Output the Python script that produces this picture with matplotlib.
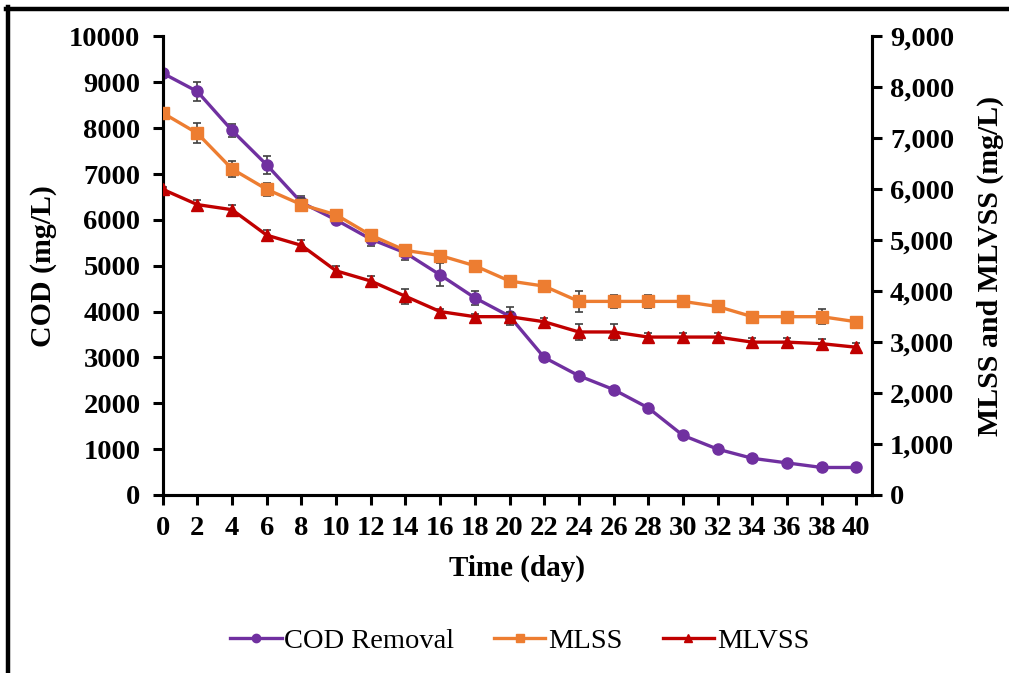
import matplotlib
matplotlib.use("Agg")
import matplotlib.pyplot as plt
from matplotlib.lines import Line2D
from matplotlib.ticker import FuncFormatter, MultipleLocator

days = list(range(0, 41, 2))
cod = [9200, 8800, 7950, 7200, 6380, 6000, 5580, 5280, 4800, 4300, 3900,
       3000, 2600, 2300, 1900, 1300, 1000, 800, 700, 600, 600]
cod_err = [40, 200, 150, 200, 150, 100, 150, 150, 250, 150, 200,
           80, 50, 50, 50, 50, 40, 40, 40, 40, 40]
mlss = [7500, 7100, 6400, 6000, 5700, 5500, 5100, 4800, 4700, 4500, 4200,
        4100, 3800, 3800, 3800, 3800, 3700, 3500, 3500, 3500, 3400]
mlss_err = [40, 200, 150, 130, 130, 100, 100, 100, 80, 80, 80,
            80, 200, 120, 120, 100, 80, 60, 60, 150, 80]
mlvss = [6000, 5700, 5600, 5100, 4900, 4400, 4200, 3900, 3600, 3500, 3500,
         3400, 3200, 3200, 3100, 3100, 3100, 3000, 3000, 2970, 2900]
mlvss_err = [40, 100, 100, 100, 100, 100, 100, 150, 60, 60, 100,
             80, 150, 150, 80, 80, 80, 80, 80, 100, 80]

purple = "#7030A0"
orange = "#ED7D31"
red = "#C00000"
ecol = "#404040"

plt.rcParams['font.family'] = ['Liberation Serif', 'DejaVu Serif']

fig = plt.figure(figsize=(10.09, 6.73), dpi=100)
ax = fig.add_axes([0.1612, 0.2645, 0.8642 - 0.1612, 0.9458 - 0.2645])
ax2 = ax.twinx()

lw = 2.4
ax.errorbar(days, cod, yerr=cod_err, color=purple, lw=lw, marker='o',
            markersize=8, ecolor=ecol, elinewidth=1.2, capsize=3,
            capthick=1.2, zorder=3, label='COD Removal')
ax2.errorbar(days, mlss, yerr=mlss_err, color=orange, lw=lw, marker='s',
             markersize=8, ecolor=ecol, elinewidth=1.2, capsize=3,
             capthick=1.2, zorder=3, label='MLSS')
ax2.errorbar(days, mlvss, yerr=mlvss_err, color=red, lw=lw, marker='^',
             markersize=9, ecolor=ecol, elinewidth=1.2, capsize=3,
             capthick=1.2, zorder=3, label='MLVSS')

ax.set_xlim(0, 40.9)
ax.set_ylim(0, 10000)
ax2.set_ylim(0, 9000)
ax.xaxis.set_major_locator(MultipleLocator(2))
ax.yaxis.set_major_locator(MultipleLocator(1000))
ax2.yaxis.set_major_locator(MultipleLocator(1000))
ax2.yaxis.set_major_formatter(FuncFormatter(lambda v, p: f"{int(v):,}"))

fs = 20.5
for a in (ax, ax2):
    for s in a.spines.values():
        s.set_linewidth(2.2)
    a.tick_params(width=2.2, length=7, labelsize=fs, direction='out')
    for t in a.get_xticklabels() + a.get_yticklabels():
        t.set_fontweight('bold')
ax.spines['top'].set_visible(False)
ax2.spines['top'].set_visible(False)
ax.tick_params(axis='x', pad=8)
ax.tick_params(axis='y', pad=9)
ax2.tick_params(axis='y', pad=6)

ax.set_xlabel('Time (day)', fontsize=21, fontweight='bold', labelpad=10)
ax.set_ylabel('COD (mg/L)', fontsize=21.5, fontweight='bold', labelpad=9)
ax2.set_ylabel('MLSS and MLVSS (mg/L)', fontsize=21.5, fontweight='bold', labelpad=16)

handles = [Line2D([], [], color=purple, lw=lw, marker='o', markersize=6),
           Line2D([], [], color=orange, lw=lw, marker='s', markersize=6),
           Line2D([], [], color=red, lw=lw, marker='^', markersize=6)]
fig.legend(handles, ['COD Removal', 'MLSS', 'MLVSS'], loc='center',
           bbox_to_anchor=(0.515, 0.048), ncol=3, frameon=False, fontsize=20.5,
           handlelength=1.8, handletextpad=0.1, columnspacing=1.4)

# figure border (top and left)
fig.add_artist(Line2D([0.006, 1.0], [0.987, 0.987], transform=fig.transFigure,
                      color='black', lw=3.2))
fig.add_artist(Line2D([0.008, 0.008], [0.0, 0.989], transform=fig.transFigure,
                      color='black', lw=3.2))

fig.savefig('out.png', dpi=100)
